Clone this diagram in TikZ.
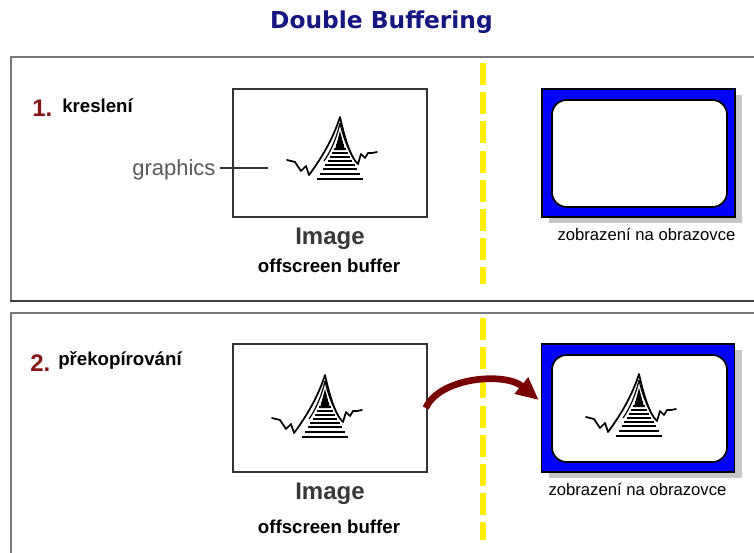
\documentclass[tikz,border=0pt]{standalone}
\usepackage{fontspec}
\setmainfont{Liberation Sans}
\newfontfamily\titlefont{DejaVu Sans}
\usetikzlibrary{arrows.meta,shadows,calc}

\definecolor{titlenavy}{RGB}{22,22,128}
\definecolor{stepred}{RGB}{135,22,22}
\definecolor{arrowred}{RGB}{122,0,0}
\definecolor{framegray}{RGB}{120,120,120}
\definecolor{framedark}{RGB}{64,64,64}
\definecolor{screenblue}{RGB}{0,0,255}
\definecolor{sepyellow}{RGB}{255,238,0}

\tikzset{
  frame/.style={draw=framegray, line width=1.6pt},
  bufbox/.style={draw=black!80, line width=1.1pt, minimum width=145.5pt,
    minimum height=96pt, inner sep=0pt},
  screen/.style={draw=black, fill=screenblue, line width=1.1pt,
    minimum width=144.75pt, minimum height=96pt, inner sep=0pt,
    drop shadow={shadow xshift=5.25pt, shadow yshift=-4.5pt,
      fill=black!22, opacity=1}},
  screenface/.style={draw=black, fill=white, line width=1.3pt,
    rounded corners=11pt, minimum width=131.25pt, minimum height=80.25pt,
    inner sep=0pt},
  separator/.style={draw=sepyellow, line width=3.8pt,
    dash pattern=on 16.5pt off 5.4pt},
  steplabel/.style={anchor=base west, inner sep=0pt, text=stepred,
    font=\fontsize{18pt}{20pt}\selectfont\bfseries},
  steptext/.style={anchor=base west, inner sep=0pt,
    font=\fontsize{14pt}{16pt}\selectfont\bfseries},
  imagelabel/.style={anchor=base, inner sep=0pt, text=black!78,
    font=\fontsize{18pt}{20pt}\selectfont\bfseries},
  bufferlabel/.style={anchor=base, inner sep=0pt,
    font=\fontsize{14pt}{16pt}\selectfont\bfseries},
  screenlabel/.style={anchor=base, inner sep=0pt,
    font=\fontsize{12.5pt}{14pt}\selectfont},
  copyarrow/.style={draw=arrowred, line width=5pt,
    -{Triangle[length=17pt,width=15pt]}},
  % the small waveform picture, drawn from its peak
  spike/.pic={
    \draw[line width=1.3pt, line join=round, line cap=round]
      (-53,43) -- (-45,45) -- (-39,54) -- (-34,49) -- (-31,58)
      .. controls (-19,42) and (-7,22) .. (0,0)
      .. controls (4,18) and (10,40) .. (18,47)
      -- (21,37) -- (25,41) -- (28,36) -- (32,36) -- (37,35);
    \draw[line width=0.9pt] (0,6) .. controls (-3,20) and (-9,34) .. (-16,44);
    \draw[line width=0.9pt] (0,6) .. controls (3,20) and (8,32) .. (14,42);
    \fill (0,14) -- (-5,33) -- (5,33) -- cycle;
    \foreach \d in {28,32,36,40,44,48} {
      \draw[line width=1pt] ({-(3+(\d-27)*0.55)},\d) -- ({3+(\d-27)*0.55},\d);
    }
    \foreach \d in {52,57,62} {
      \draw[line width=1.4pt] ({-(3+(\d-27)*0.57)},\d) -- ({3+(\d-27)*0.57},\d);
    }
  }
}

\begin{document}
\begin{tikzpicture}[x=0.75pt, y=-0.75pt]
\useasboundingbox (0,0) rectangle (754,553);
\fill[white] (0,0) rectangle (754,553);

% title
\node[inner sep=0pt, text=titlenavy,
  font=\titlefont\bfseries\fontsize{17.5pt}{20pt}\selectfont]
  (title) at (381.5,22) {Double Buffering};

% panel frames
\draw[frame] (754,57) -- (11,57) -- (11,301);
\draw[draw=framedark, line width=1.9pt] (10.2,301) -- (754,301);
\draw[frame] (754,313) -- (11,313) -- (11,553);

% separators
\draw[separator] (483,63) -- (483,284);
\draw[separator] (483,318) -- (483,540);

% ---- step 1: drawing ----
\node[steplabel] (n1) at (32,116) {1.};
\node[steptext] (t1) at (62,112) {kreslení};

\node[bufbox] (box1) at (330,153) {};
\pic at (340,117) {spike};
\node[inner sep=0pt, anchor=base west, text=black!65,
  font=\fontsize{16.5pt}{18pt}\selectfont] (gfx) at (132,175) {graphics};
\coordinate (gfxend) at (268,168);
\draw[line width=1.3pt, black!80] ($(gfx.east)+(5,0)$) |- (gfxend);

\node[imagelabel] (img1) at (330,244) {Image};
\node[bufferlabel] (buf1) at (329,272) {offscreen buffer};

\node[screen] (scr1) at (638.5,153) {};
\node[screenface] (face1) at (639.5,153.5) {};
\node[screenlabel] (lab1) at (646.5,240) {zobrazení na obrazovce};

% ---- step 2: copying ----
\node[steplabel] (n2) at (30,371) {2.};
\node[steptext] (t2) at (58,365) {překopírování};

\node[bufbox] (box2) at (330,408) {};
\pic at (325,375) {spike};
\node[imagelabel] (img2) at (330,499) {Image};
\node[bufferlabel] (buf2) at (329,533) {offscreen buffer};

\node[screen] (scr2) at (638,408) {};
\node[screenface] (face2) at (639.5,408.5) {};
\pic at (639,374) {spike};
\node[screenlabel] (lab2) at (637.5,495) {zobrazení na obrazovce};

\draw[copyarrow] ($(box2.east)+(-2,0)$)
  .. controls (440,377) and (505,372) .. ($(scr2.west)+(-2,-8)$);
\end{tikzpicture}
\end{document}
